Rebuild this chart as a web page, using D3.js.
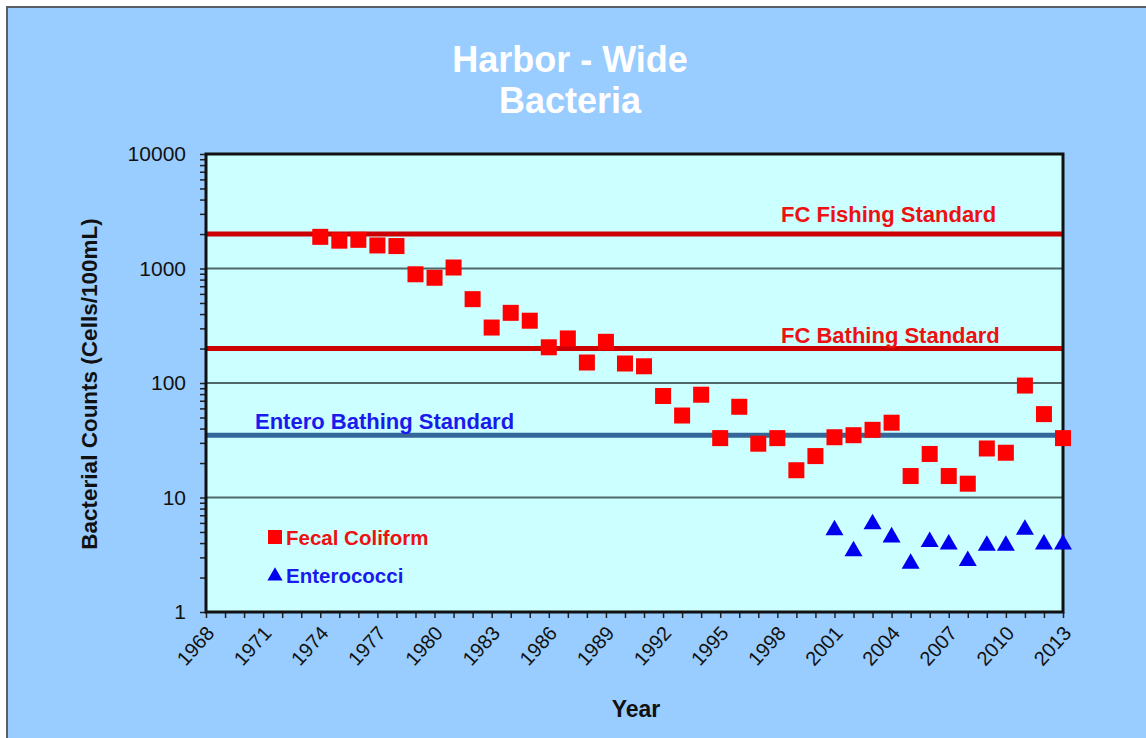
<!DOCTYPE html>
<html>
<head>
<meta charset="utf-8">
<script src="https://cdn.jsdelivr.net/npm/d3@7"></script>
<style>
  html, body { margin: 0; padding: 0; background: #ffffff; }
  svg { display: block; font-family: Arial, "Liberation Sans", sans-serif; }
</style>
</head>
<body>
<svg id="chart" width="1146" height="738"></svg>
<script>
// Annual harbor-wide geometric means (cells/100mL)
const fcYears = [1974, 1975, 1976, 1977, 1978, 1979, 1980, 1981, 1982, 1983, 1984, 1985,
  1986, 1987, 1988, 1989, 1990, 1991, 1992, 1993, 1994, 1995, 1996, 1997, 1998, 1999,
  2000, 2001, 2002, 2003, 2004, 2005, 2006, 2007, 2008, 2009, 2010, 2011, 2012, 2013];
const fecalColiform = [1890, 1750, 1780, 1590, 1570, 890, 830, 1020, 540, 305, 410, 350,
  205, 245, 151, 229, 148, 140, 77, 52, 79, 33, 62, 29.5, 33, 17.3,
  23, 33.6, 35, 39, 45, 15.4, 24, 15.4, 13.2, 26.8, 24.6, 95, 53.5, 33];
const entYears = [2001, 2002, 2003, 2004, 2005, 2006, 2007, 2008, 2009, 2010, 2011, 2012, 2013];
const enterococci = [5.2, 3.4, 5.85, 4.5, 2.65, 4.1, 3.9, 2.8, 3.8, 3.8, 5.25, 3.9, 3.9];

// Regulatory reference lines
const standards = [
  { name: "FC Fishing Standard", value: 2000, color: "#cc0000", text: "#ee1111" },
  { name: "FC Bathing Standard", value: 200, color: "#cc0000", text: "#ee1111" },
  { name: "Entero Bathing Standard", value: 35, color: "#336699", text: "#1a1aee" }
];

const yTickValues = [1, 10, 100, 1000, 10000];
const xTickYears = d3.range(1968, 2014, 3);

const svg = d3.select("#chart");
const W = 1146, H = 738;
const plot = { left: 206, top: 154, right: 1063, bottom: 612 };
const FONT = "Arial, 'Liberation Sans', sans-serif";

// Page background with a thin frame along the top and left
svg.append("rect").attr("x", 0).attr("y", 0).attr("width", W).attr("height", H).attr("fill", "#ffffff");
svg.append("rect").attr("x", 7).attr("y", 7).attr("width", W).attr("height", H)
  .attr("fill", "#99ccff").attr("stroke", "#5a5f66").attr("stroke-width", 2);

// Title
const title = svg.append("text").attr("x", 570).attr("text-anchor", "middle")
  .attr("fill", "#ffffff").attr("font-weight", "bold").attr("font-size", 36);
title.append("tspan").attr("x", 570).attr("y", 72).text("Harbor - Wide");
title.append("tspan").attr("x", 570).attr("y", 113).text("Bacteria");

const x = d3.scaleLinear().domain([1968, 2013]).range([plot.left, plot.right]);
const y = d3.scaleLog().domain([1, 10000]).range([plot.bottom, plot.top]);

// Plot background
svg.append("rect").attr("x", plot.left).attr("y", plot.top)
  .attr("width", plot.right - plot.left).attr("height", plot.bottom - plot.top)
  .attr("fill", "#ccffff");

// Decade gridlines
svg.append("g").selectAll("line").data(yTickValues.slice(1, -1)).join("line")
  .attr("x1", plot.left).attr("x2", plot.right)
  .attr("y1", d => y(d)).attr("y2", d => y(d))
  .attr("stroke", "#506868").attr("stroke-width", 2);

// Standards
svg.append("g").selectAll("line").data(standards).join("line")
  .attr("x1", plot.left).attr("x2", plot.right)
  .attr("y1", d => y(d.value)).attr("y2", d => y(d.value))
  .attr("stroke", d => d.color).attr("stroke-width", 5);

const labelPos = { "FC Fishing Standard": [781, -12], "FC Bathing Standard": [781, -6], "Entero Bathing Standard": [255, -6] };
svg.append("g").selectAll("text").data(standards).join("text")
  .attr("x", d => labelPos[d.name][0])
  .attr("y", d => y(d.value) + labelPos[d.name][1])
  .attr("fill", d => d.text).attr("font-weight", "bold").attr("font-size", 22)
  .text(d => d.name);

// Axes
const yMinor = [];
for (let dec = 1; dec < 10000; dec *= 10) for (let k = 1; k < 10; k++) yMinor.push(dec * k);
yMinor.push(10000);
const yAxis = d3.axisLeft(y).tickValues(yMinor).tickSize(6).tickPadding(14)
  .tickFormat(d => yTickValues.includes(d) ? String(d) : "");
const gy = svg.append("g").attr("transform", `translate(${plot.left},0)`).call(yAxis);
gy.select(".domain").remove();
gy.selectAll(".tick line").attr("stroke", "#222").attr("stroke-width", 1.5);
gy.selectAll(".tick text").attr("font-size", 21).attr("fill", "#111").attr("font-family", FONT);

const xAxis = d3.axisBottom(x).tickValues(d3.range(1968, 2014, 1)).tickSize(6)
  .tickFormat(d => xTickYears.includes(d) ? String(d) : "");
const gx = svg.append("g").attr("transform", `translate(0,${plot.bottom})`).call(xAxis);
gx.select(".domain").remove();
gx.selectAll(".tick line").attr("stroke", "#222").attr("stroke-width", 1.5);
gx.selectAll(".tick text")
  .attr("font-size", 20).attr("fill", "#111").attr("font-family", FONT)
  .attr("text-anchor", "end").attr("dy", 0).attr("y", 0)
  .attr("transform", "translate(9,22) rotate(-48)");

// Plot frame
svg.append("rect").attr("x", plot.left).attr("y", plot.top)
  .attr("width", plot.right - plot.left).attr("height", plot.bottom - plot.top)
  .attr("fill", "none").attr("stroke", "#111").attr("stroke-width", 3);

// Fecal coliform squares
const sq = 16;
svg.append("g").selectAll("rect").data(fcYears.map((yr, i) => [yr, fecalColiform[i]])).join("rect")
  .attr("x", d => x(d[0]) - sq / 2).attr("y", d => y(d[1]) - sq / 2)
  .attr("width", sq).attr("height", sq).attr("fill", "#ff0000");

// Enterococci triangles
const tri = d3.symbol().type(d3.symbolTriangle).size(140);
svg.append("g").selectAll("path").data(entYears.map((yr, i) => [yr, enterococci[i]])).join("path")
  .attr("d", tri)
  .attr("transform", d => `translate(${x(d[0])},${y(d[1])})`)
  .attr("fill", "#0000ee");

// Legend
const leg = svg.append("g");
leg.append("rect").attr("x", 268).attr("y", 530).attr("width", 14).attr("height", 14).attr("fill", "#ff0000");
leg.append("text").attr("x", 286).attr("y", 545).attr("font-size", 20.5).attr("font-weight", "bold")
  .attr("fill", "#ee1111").text("Fecal Coliform");
leg.append("path").attr("d", d3.symbol().type(d3.symbolTriangle).size(100))
  .attr("transform", "translate(275,576)").attr("fill", "#0000ee");
leg.append("text").attr("x", 286).attr("y", 583).attr("font-size", 20.5).attr("font-weight", "bold")
  .attr("fill", "#1a1aee").text("Enterococci");

// Axis titles
svg.append("text").attr("transform", "translate(97,384) rotate(-90)")
  .attr("text-anchor", "middle").attr("font-size", 22.5).attr("font-weight", "bold").attr("fill", "#111")
  .text("Bacterial Counts (Cells/100mL)");
svg.append("text").attr("x", 636).attr("y", 717).attr("text-anchor", "middle")
  .attr("font-size", 23).attr("font-weight", "bold").attr("fill", "#111").text("Year");
</script>
</body>
</html>
